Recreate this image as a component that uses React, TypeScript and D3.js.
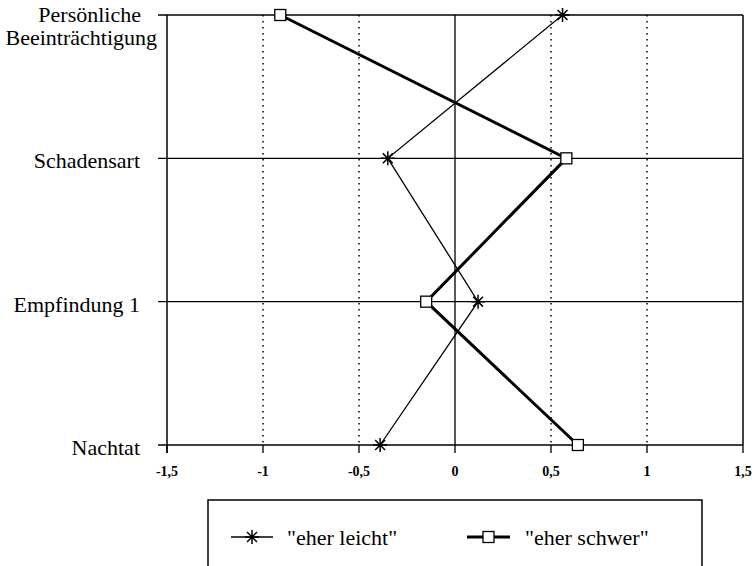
import { useEffect, useRef } from "react";
import * as d3 from "d3";

const categories = ["Persönliche\nBeeinträchtigung", "Schadensart", "Empfindung 1", "Nachtat"];
const leicht = [0.56, -0.35, 0.12, -0.39];
const schwer = [-0.91, 0.58, -0.15, 0.64];
const xTicks = [-1.5, -1, -0.5, 0, 0.5, 1, 1.5];
const xTickLabels = ["-1,5", "-1", "-0,5", "0", "0,5", "1", "1,5"];
const seriesNames = ['"eher leicht"', '"eher schwer"'];

const FONT = "Liberation Serif";

function starPath(s: number) {
  const d = s * 0.7071;
  return `M${-s},0L${s},0M0,${-s}L0,${s}M${-d},${-d}L${d},${d}M${-d},${d}L${d},${-d}`;
}

const App = () => {
  const svgRef = useRef<SVGSVGElement | null>(null);

  useEffect(() => {
    if (!svgRef.current) return;
    const svg = d3.select(svgRef.current);
    svg.selectAll("*").remove();

    const left = 167, right = 743, top = 15, bottom = 445;

    const x = d3.scaleLinear().domain([-1.5, 1.5]).range([left, right]);
    const y = d3.scalePoint<number>().domain(d3.range(categories.length)).range([top, bottom]);

    // dotted gridlines
    xTicks.filter(t => t !== 0 && Math.abs(t) !== 1.5).forEach(t => {
      svg.append("line")
        .attr("x1", x(t)).attr("x2", x(t)).attr("y1", top).attr("y2", bottom)
        .attr("stroke", "#000").attr("stroke-width", 1.5)
        .attr("stroke-dasharray", "1.5,4.5");
    });

    // zero line
    svg.append("line")
      .attr("x1", x(0)).attr("x2", x(0)).attr("y1", top).attr("y2", bottom)
      .attr("stroke", "#000").attr("stroke-width", 1.3);

    // category lines + ticks
    categories.forEach((_, i) => {
      svg.append("line")
        .attr("x1", left - 9).attr("x2", right).attr("y1", y(i)!).attr("y2", y(i)!)
        .attr("stroke", "#000").attr("stroke-width", 1.3);
    });

    // frame
    svg.append("line").attr("x1", left).attr("x2", left).attr("y1", top).attr("y2", bottom + 8)
      .attr("stroke", "#000").attr("stroke-width", 1.5);
    svg.append("line").attr("x1", right).attr("x2", right).attr("y1", top).attr("y2", bottom)
      .attr("stroke", "#000").attr("stroke-width", 1.5);

    // x ticks
    xTicks.forEach((t, i) => {
      svg.append("line")
        .attr("x1", x(t)).attr("x2", x(t)).attr("y1", bottom).attr("y2", bottom + 8)
        .attr("stroke", "#000").attr("stroke-width", 1.3);
      svg.append("text")
        .attr("x", x(t)).attr("y", bottom + 31)
        .attr("text-anchor", "middle")
        .style("font-family", FONT).style("font-size", "14px").style("font-weight", "bold")
        .text(xTickLabels[i]);
    });

    // category labels
    categories.forEach((c, i) => {
      const lines = c.split("\n");
      const t = svg.append("text")
        .attr("text-anchor", "end")
        .style("font-family", FONT).style("font-size", "22px");
      lines.forEach((l, j) => {
        t.append("tspan")
          .attr("x", lines.length > 1 ? [141, 157][j] : 140)
          .attr("y", y(i)! + (lines.length > 1 ? 7 : 10) + j * 23)
          .text(l);
      });
    });

    const line = d3.line<number>().x(d => x(d)).y((_, i) => y(i)!);

    svg.append("path").datum(leicht).attr("d", line)
      .attr("fill", "none").attr("stroke", "#000").attr("stroke-width", 1.3);
    svg.append("path").datum(schwer).attr("d", line)
      .attr("fill", "none").attr("stroke", "#000").attr("stroke-width", 3);

    leicht.forEach((v, i) => {
      svg.append("path").attr("d", starPath(7))
        .attr("transform", `translate(${x(v)},${y(i)})`)
        .attr("stroke", "#000").attr("stroke-width", 1.5).attr("fill", "none");
    });
    schwer.forEach((v, i) => {
      svg.append("rect")
        .attr("x", x(v) - 5.5).attr("y", y(i)! - 5.5).attr("width", 11).attr("height", 11)
        .attr("fill", "#fff").attr("stroke", "#000").attr("stroke-width", 1.3);
    });

    // legend
    const lg = svg.append("g");
    lg.append("rect").attr("x", 208).attr("y", 500).attr("width", 494).attr("height", 80)
      .attr("fill", "none").attr("stroke", "#000").attr("stroke-width", 1.5);
    const ly = 537;
    lg.append("line").attr("x1", 231).attr("x2", 273).attr("y1", ly).attr("y2", ly)
      .attr("stroke", "#000").attr("stroke-width", 1.3);
    lg.append("path").attr("d", starPath(7)).attr("transform", `translate(252,${ly})`)
      .attr("stroke", "#000").attr("stroke-width", 1.5).attr("fill", "none");
    lg.append("text").attr("x", 287).attr("y", ly + 8)
      .style("font-family", FONT).style("font-size", "22px").text(seriesNames[0]);
    lg.append("line").attr("x1", 467).attr("x2", 510).attr("y1", ly).attr("y2", ly)
      .attr("stroke", "#000").attr("stroke-width", 3);
    lg.append("rect").attr("x", 483).attr("y", ly - 5.5).attr("width", 11).attr("height", 11)
      .attr("fill", "#fff").attr("stroke", "#000").attr("stroke-width", 1.3);
    lg.append("text").attr("x", 525).attr("y", ly + 8)
      .style("font-family", FONT).style("font-size", "22px").text(seriesNames[1]);
  }, []);

  return <svg ref={svgRef} width={755} height={566} style={{ display: "block", position: "absolute", left: 0, top: 0, background: "#fff" }} />;
};

export default App;
